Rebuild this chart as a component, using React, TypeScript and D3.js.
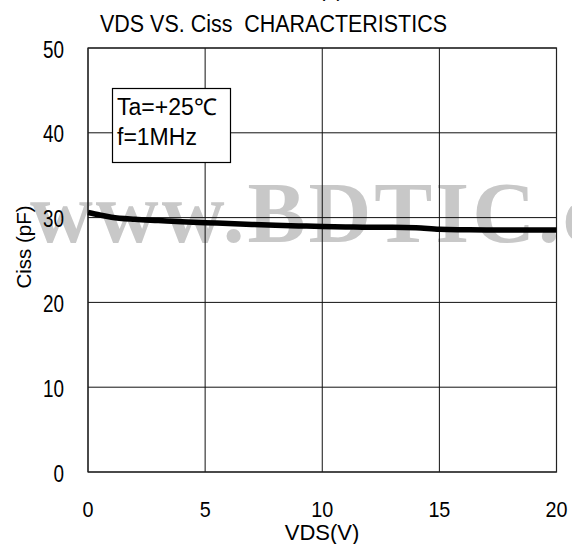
import React from "react";
import * as d3 from "d3";

const vds = [0, 0.5, 1, 2, 3, 4, 5, 6, 7, 8, 9, 10, 11, 12, 13, 14, 15, 16, 17, 18, 19, 20];
const ciss = [30.6, 30.3, 30.05, 29.8, 29.65, 29.5, 29.4, 29.3, 29.2, 29.1, 29.02, 28.95, 28.9, 28.85, 28.85, 28.8, 28.62, 28.57, 28.55, 28.55, 28.55, 28.55];
const xTicks = [0, 5, 10, 15, 20];
const yTicks = [0, 10, 20, 30, 40, 50];
const title = "VDS VS. Ciss  CHARACTERISTICS";
const xLabel = "VDS(V)";
const yLabel = "Ciss (pF)";
const legendLines = ["Ta=+25\u2103", "f=1MHz"];
const watermark = "www.BDTIC.com";

const W = 572;
const H = 544;
const left = 88;
const right = 556.5;
const top = 48;
const bottom = 472;
const FONT = "'Liberation Sans', Arial, sans-serif";

export default function App() {
  const x = d3.scaleLinear().domain([0, 20]).range([left, right]);
  const y = d3.scaleLinear().domain([0, 50]).range([bottom, top]);
  const pts = vds.map((v, i) => [v, ciss[i]] as [number, number]);
  const line = d3
    .line<[number, number]>()
    .x((d) => x(d[0]))
    .y((d) => y(d[1]))
    .curve(d3.curveMonotoneX);

  return (
    <svg
      width={W}
      height={H}
      style={{ position: "absolute", left: 0, top: 0, background: "#fff" }}
    >
      <rect x={0} y={0} width={W} height={H} fill="#fff" />
      {/* watermark */}
      <text
        x={30}
        y={242}
        fontFamily="'Liberation Serif', 'Times New Roman', serif"
        fontWeight="bold"
        fontSize={87}
        fill="#c8c8c8"
        letterSpacing={3}
      >
        {watermark}
      </text>
      {/* cut-off header fragment */}
      <text x={331} y={-3} textAnchor="middle" fontFamily={FONT} fontSize={20} fill="#000">
        (4)
      </text>
      {/* title */}
      <text
        x={100}
        y={31.5}
        fontFamily={FONT}
        fontSize={23}
        fill="#000"
        textLength={347}
        lengthAdjust="spacingAndGlyphs"
        style={{ whiteSpace: "pre" }}
      >
        {title}
      </text>
      {/* grid */}
      {xTicks.map((t) => (
        <line key={"gx" + t} x1={x(t)} x2={x(t)} y1={top} y2={bottom} stroke="#111" strokeWidth={1} />
      ))}
      {yTicks.map((t) => (
        <line key={"gy" + t} x1={left} x2={right} y1={y(t)} y2={y(t)} stroke="#111" strokeWidth={1} />
      ))}
      <rect x={left} y={top} width={right - left} height={bottom - top} fill="none" stroke="#222" strokeWidth={1.2} />
      {/* legend box */}
      <rect x={112.5} y={88.5} width={118} height={74} fill="#fff" stroke="#000" strokeWidth={1.2} />
      {legendLines.map((s, i) => (
        <text key={s} x={117} y={115 + i * 30} fontFamily={FONT} fontSize={23} fill="#000">
          {s}
        </text>
      ))}
      {/* curve */}
      <path d={line(pts) || ""} fill="none" stroke="#000" strokeWidth={5.5} />
      {/* y ticks */}
      {yTicks.map((t) => (
        <text
          key={"ty" + t}
          x={64}
          y={y(t) + 9.5}
          textAnchor="end"
          fontFamily={FONT}
          fontSize={23}
          fill="#000"
          textLength={String(t).length * 10.5}
          lengthAdjust="spacingAndGlyphs"
        >
          {t}
        </text>
      ))}
      {/* x ticks */}
      {xTicks.map((t) => (
        <text
          key={"tx" + t}
          x={x(t)}
          y={516.5}
          textAnchor="middle"
          fontFamily={FONT}
          fontSize={22.5}
          fill="#000"
          textLength={String(t).length * 11}
          lengthAdjust="spacingAndGlyphs"
        >
          {t}
        </text>
      ))}
      <text x={322} y={540} textAnchor="middle" fontFamily={FONT} fontSize={22} fill="#000">
        {xLabel}
      </text>
      <text
        transform="translate(31,247) rotate(-90)"
        textAnchor="middle"
        fontFamily={FONT}
        fontSize={20.5}
        fill="#000"
        style={{ whiteSpace: "pre" }}
      >
        {yLabel}
      </text>
    </svg>
  );
}
